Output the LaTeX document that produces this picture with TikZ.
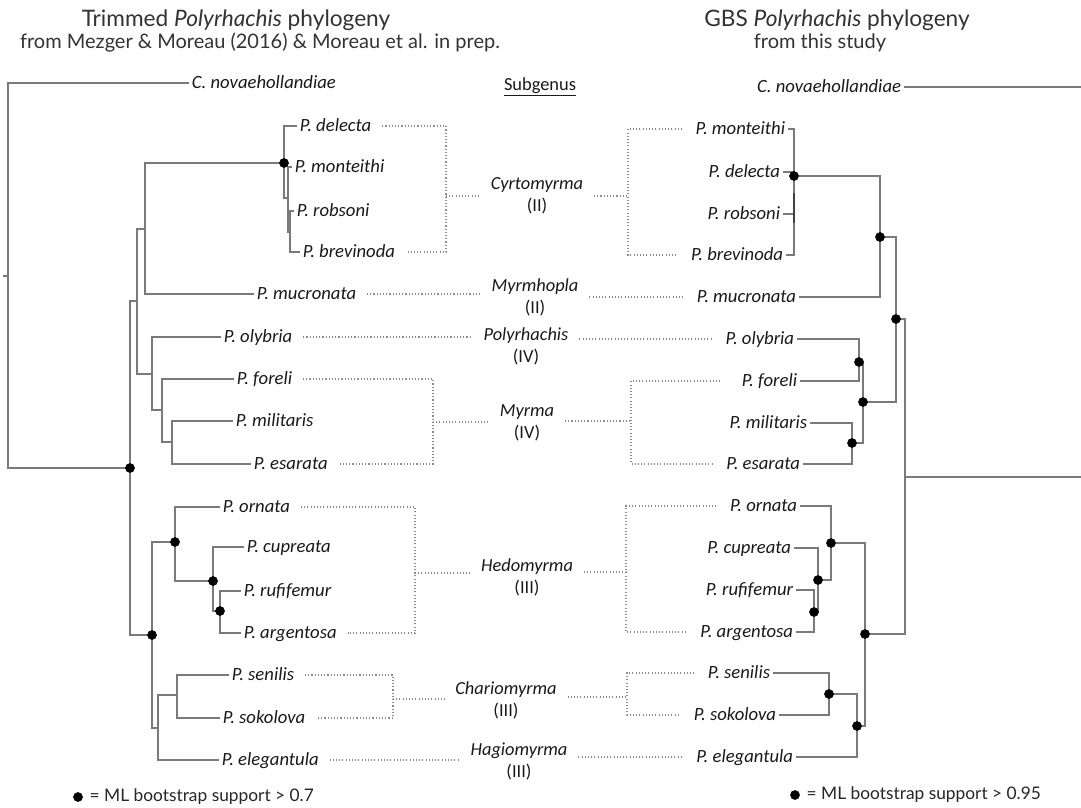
\documentclass[tikz,border=0pt]{standalone}
\usepackage{fontspec}
\setmainfont{Carlito}
\newfontfamily\headfont{Lato}
\begin{document}
\begin{tikzpicture}[
        x=0.75pt, y=-0.75pt,
        branch/.style={draw=black!52, line width=1pt},
        dotline/.style={draw=black!45, line width=0.8pt, dash pattern=on 0.8pt off 1.6pt},
        tipL/.style={anchor=west, inner sep=2pt, text height=10pt, text depth=2pt, font=\fontsize{14}{16}\selectfont\itshape, text=black!90},
        tipR/.style={tipL, anchor=east},
        subg/.style={align=center, inner xsep=8pt, inner ysep=1pt, font=\fontsize{13.8}{16.5}\selectfont, text=black!90},
        boot/.style={circle, fill=black, inner sep=0pt, minimum size=7.3pt},
        title/.style={font=\headfont\fontsize{17}{20}\selectfont, text=black!80},
        subtitle/.style={font=\headfont\fontsize{15}{17}\selectfont, text=black!80},
        legend/.style={anchor=west, font=\headfont\fontsize{13}{15}\selectfont, text=black!85}
    ]
        \useasboundingbox (0,0) rectangle (1081,807);

        % headings
        \node[title] (ltitle) at (236,20) {Trimmed \textit{Polyrhachis} phylogeny};
        \node[subtitle] (lsubt) at (260,43) {from Mezger \& Moreau (2016) \& Moreau et al. in prep.};
        \node[title] (rtitle) at (837,20) {GBS \textit{Polyrhachis} phylogeny};
        \node[subtitle] (rsubt) at (820,43) {from this study};

        % --- left tree: internal nodes ---
        \coordinate (lstem) at (3,276);
        \coordinate (lroot) at (8,276);
        \coordinate (lin) at (130,468);
        \coordinate (lA) at (137,301);
        \coordinate (lB) at (145,229);
        \coordinate (lC) at (152,374);
        \coordinate (lD) at (162,410);
        \coordinate (lE) at (172,442);
        \coordinate (lcyr) at (284,163);
        \coordinate (lcyr2) at (288,198);
        \coordinate (lcyr3) at (290,232);
        \coordinate (lH) at (152,635);
        \coordinate (lorn) at (175,542);
        \coordinate (lcup) at (213,581);
        \coordinate (lruf) at (220,611);
        \coordinate (lcha) at (158,728);
        \coordinate (lsen) at (177,695);

        % left tips
        \node[tipL] (lnov) at (189,83) {C. novaehollandiae};
        \node[tipL] (ldel) at (297,126) {P. delecta};
        \node[tipL] (lmon) at (292,167) {P. monteithi};
        \node[tipL] (lrob) at (294,211) {P. robsoni};
        \node[tipL] (lbre) at (300,252) {P. brevinoda};
        \node[tipL] (lmuc) at (254,294) {P. mucronata};
        \node[tipL] (loly) at (221,337) {P. olybria};
        \node[tipL] (lfor) at (234,379) {P. foreli};
        \node[tipL] (lmil) at (233,421) {P. militaris};
        \node[tipL] (lesa) at (251,464) {P. esarata};
        \node[tipL] (lorna) at (220,507) {P. ornata};
        \node[tipL] (lcupr) at (244,547) {P. cupreata};
        \node[tipL] (lrufi) at (241,591) {P. rufifemur};
        \node[tipL] (larg) at (241,633) {P. argentosa};
        \node[tipL] (lsenil) at (229,675) {P. senilis};
        \node[tipL] (lsok) at (220,718) {P. sokolova};
        \node[tipL] (lele) at (219,760) {P. elegantula};

        % left branches
        \draw[branch] (lstem) -- (lroot);
        \draw[branch] (lroot) |- (lnov.west) (lroot) |- (lin);
        \draw[branch] (lin) |- (lA) (lin) |- (lH);
        \draw[branch] (lA) |- (lB) (lA) |- (lC);
        \draw[branch] (lB) |- (lcyr) (lB) |- (lmuc.west);
        \draw[branch] (lcyr) |- (ldel.west) (lcyr) |- (lcyr2);
        \draw[branch] (lcyr2) |- (lmon.west) (lcyr2) |- (lcyr3);
        \draw[branch] (lcyr3) |- (lrob.west) (lcyr3) |- (lbre.west);
        \draw[branch] (lC) |- (loly.west) (lC) |- (lD);
        \draw[branch] (lD) |- (lfor.west) (lD) |- (lE);
        \draw[branch] (lE) |- (lmil.west) (lE) |- (lesa.west);
        \draw[branch] (lH) |- (lorn) (lH) |- (lcha);
        \draw[branch] (lorn) |- (lorna.west) (lorn) |- (lcup);
        \draw[branch] (lcup) |- (lcupr.west) (lcup) |- (lruf);
        \draw[branch] (lruf) |- (lrufi.west) (lruf) |- (larg.west);
        \draw[branch] (lcha) |- (lsen) (lcha) |- (lele.west);
        \draw[branch] (lsen) |- (lsenil.west) (lsen) |- (lsok.west);

        % left support
        \node[boot] (blcyr) at (lcyr) {};
        \node[boot] (blin) at (lin) {};
        \node[boot] (blH) at (lH) {};
        \node[boot] (blorn) at (lorn) {};
        \node[boot] (blcup) at (lcup) {};
        \node[boot] (blruf) at (lruf) {};

        % --- right tree: internal nodes ---
        \coordinate (rout) at (1081,87);
        \coordinate (rstem) at (1081,477);
        \coordinate (rroot) at (905,477);
        \coordinate (rA) at (896,319);
        \coordinate (rB) at (880,237);
        \coordinate (rcyr) at (794,176);
        \coordinate (rC) at (863,402);
        \coordinate (rol) at (859,362);
        \coordinate (rmy) at (852,443);
        \coordinate (rH) at (865,634);
        \coordinate (rorn) at (831,543);
        \coordinate (rcup) at (818,580);
        \coordinate (rruf) at (814,612);
        \coordinate (rsen2) at (857,726);
        \coordinate (rsen) at (829,694);

        % right tips
        \node[tipR] (rnov) at (904,87) {C. novaehollandiae};
        \node[tipR] (rmon) at (788,129) {P. monteithi};
        \node[tipR] (rdel) at (783,172) {P. delecta};
        \node[tipR] (rrob) at (783,214) {P. robsoni};
        \node[tipR] (rbre) at (786,255) {P. brevinoda};
        \node[tipR] (rmuc) at (799,297) {P. mucronata};
        \node[tipR] (roly) at (797,339) {P. olybria};
        \node[tipR] (rfor) at (800,381) {P. foreli};
        \node[tipR] (rmil) at (810,423) {P. militaris};
        \node[tipR] (resa) at (803,464) {P. esarata};
        \node[tipR] (rorna) at (800,506) {P. ornata};
        \node[tipR] (rcupr) at (794,548) {P. cupreata};
        \node[tipR] (rrufi) at (796,590) {P. rufifemur};
        \node[tipR] (rarg) at (796,632) {P. argentosa};
        \node[tipR] (rsenil) at (773,673) {P. senilis};
        \node[tipR] (rsok) at (779,715) {P. sokolova};
        \node[tipR] (rele) at (796,757) {P. elegantula};

        % right branches
        \draw[branch] (rnov.east) -- (rout);
        \draw[branch] (rroot) -- (rstem);
        \draw[branch] (rA) -| (rroot) (rH) -| (rroot);
        \draw[branch] (rB) -| (rA) (rC) -| (rA);
        \draw[branch] (rcyr) -| (rB) (rmuc.east) -| (rB);
        \draw[branch] (rmon.east) -| (rcyr) (rdel.east) -| (rcyr);
        \draw[branch] (rrob.east) -| (rcyr) (rbre.east) -| (rcyr);
        \draw[branch, draw=black!75] ([yshift=-13pt]rcyr) -- ([yshift=-35pt]rcyr);
        \draw[branch] (rol) -| (rC) (rmy) -| (rC);
        \draw[branch] (roly.east) -| (rol) (rfor.east) -| (rol);
        \draw[branch] (rmil.east) -| (rmy) (resa.east) -| (rmy);
        \draw[branch] (rorn) -| (rH) (rsen2) -| (rH);
        \draw[branch] (rorna.east) -| (rorn) (rcup) -| (rorn);
        \draw[branch] (rcupr.east) -| (rcup) (rruf) -| (rcup);
        \draw[branch] (rrufi.east) -| (rruf) (rarg.east) -| (rruf);
        \draw[branch] (rsen) -| (rsen2) (rele.east) -| (rsen2);
        \draw[branch] (rsenil.east) -| (rsen) (rsok.east) -| (rsen);

        % right support
        \node[boot] (brcyr) at (rcyr) {};
        \node[boot] (brB) at (rB) {};
        \node[boot] (brA) at (rA) {};
        \node[boot] (brC) at (rC) {};
        \node[boot] (brol) at (rol) {};
        \node[boot] (brmy) at (rmy) {};
        \node[boot] (brH) at (rH) {};
        \node[boot] (brorn) at (rorn) {};
        \node[boot] (brcup) at (rcup) {};
        \node[boot] (brruf) at (rruf) {};
        \node[boot] (brsen2) at (rsen2) {};
        \node[boot] (brsen) at (rsen) {};

        % --- subgenera ---
        \node[subg] (sub) at (540,87) {\underline{Subgenus}};
        \node[subg] (cyrt) at (537,196) {\textit{Cyrtomyrma}\\(II)};
        \node[subg] (myrmh) at (535,297) {\textit{Myrmhopla}\\(II)};
        \node[subg] (polyr) at (526,346) {\textit{Polyrhachis}\\(IV)};
        \node[subg] (myrma) at (527,423) {\textit{Myrma}\\(IV)};
        \node[subg] (hedo) at (527,577) {\textit{Hedomyrma}\\(III)};
        \node[subg] (chario) at (506,700) {\textit{Chariomyrma}\\(III)};
        \node[subg] (hagio) at (519,761) {\textit{Hagiomyrma}\\(III)};

        \coordinate (lbcyr) at (446,196);
        \coordinate (lbmyr) at (433,422);
        \coordinate (lbhed) at (415,573);
        \coordinate (lbcha) at (393,699);
        \coordinate (rbcyr) at (628,196);
        \coordinate (rbmyr) at (631,421);
        \coordinate (rbhed) at (626,572);
        \coordinate (rbcha) at (627,697);

        % dotted links
        \draw[dotline] ([xshift=6pt]ldel.east) -| (lbcyr) |- ([xshift=6pt]lbre.east);
        \draw[dotline] (lbcyr) -- (lbcyr -| cyrt.west);
        \draw[dotline] (rbcyr -| cyrt.east) -- (rbcyr);
        \draw[dotline] ([xshift=-8pt]rmon.west) -| (rbcyr) |- ([xshift=-8pt]rbre.west);

        \draw[dotline] ([xshift=6pt]lmuc.east) -- (lmuc.east -| myrmh.west);
        \draw[dotline] (rmuc.west -| myrmh.east) -- ([xshift=-8pt]rmuc.west);

        \draw[dotline] ([xshift=6pt]loly.east) -- (loly.east -| polyr.west);
        \draw[dotline] (roly.west -| polyr.east) -- ([xshift=-8pt]roly.west);

        \draw[dotline] ([xshift=6pt]lfor.east) -| (lbmyr) |- ([xshift=6pt]lesa.east);
        \draw[dotline] (lbmyr) -- (lbmyr -| myrma.west);
        \draw[dotline] (rbmyr -| myrma.east) -- (rbmyr);
        \draw[dotline] ([xshift=-14pt]rfor.west) -| (rbmyr) |- ([xshift=-8pt]resa.west);

        \draw[dotline] ([xshift=6pt]lorna.east) -| (lbhed) |- ([xshift=6pt]larg.east);
        \draw[dotline] (lbhed) -- (lbhed -| hedo.west);
        \draw[dotline] (rbhed -| hedo.east) -- (rbhed);
        \draw[dotline] ([xshift=-8pt]rorna.west) -| (rbhed) |- ([xshift=-8pt]rarg.west);

        \draw[dotline] ([xshift=6pt]lsenil.east) -| (lbcha) |- ([xshift=6pt]lsok.east);
        \draw[dotline] (lbcha) -- (lbcha -| chario.west);
        \draw[dotline] (rbcha -| chario.east) -- (rbcha);
        \draw[dotline] ([xshift=-8pt]rsenil.west) -| (rbcha) |- ([xshift=-8pt]rsok.west);

        \draw[dotline] ([xshift=6pt]lele.east) -- (lele.east -| hagio.west);
        \draw[dotline] (rele.west -| hagio.east) -- ([xshift=-8pt]rele.west);

        % keys
        \node[boot] (lkey) at (78,797) {};
        \node[legend] (lkeytext) at (85,797) {= ML bootstrap support > 0.7};
        \node[boot] (rkey) at (795,795) {};
        \node[legend] (rkeytext) at (802,795) {= ML bootstrap support > 0.95};

    \end{tikzpicture}
\end{document}
